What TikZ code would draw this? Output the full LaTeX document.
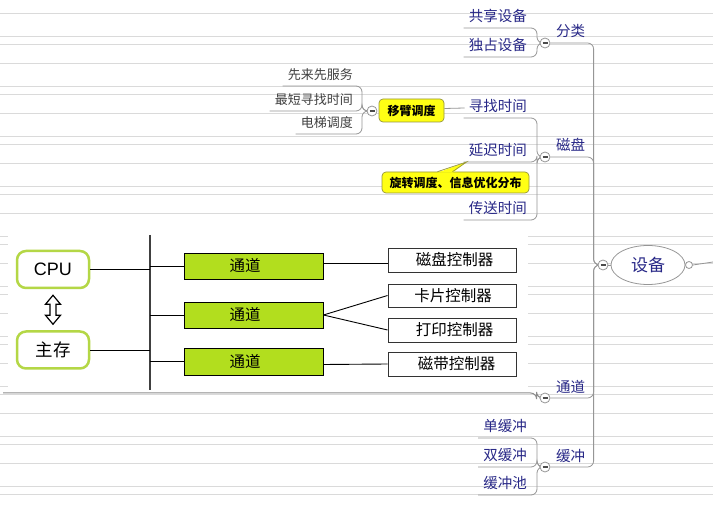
\documentclass[tikz,border=0pt]{standalone}
\usepackage{fontspec}
\newfontfamily\cjk{Noto Sans CJK SC}
\newfontfamily\lsans{Liberation Sans}
\usetikzlibrary{calc,backgrounds,shapes.geometric}
\definecolor{mmblue}{RGB}{40,40,135}
\definecolor{bgline}{RGB}{218,218,218}
\definecolor{mmline}{RGB}{150,150,150}
\definecolor{chgreen}{RGB}{178,222,30}
\definecolor{boxgreen}{RGB}{180,215,70}
\definecolor{callfill}{RGB}{255,255,20}
\definecolor{calldraw}{RGB}{150,150,60}
\begin{document}
\begin{tikzpicture}[x=1pt,y=-1pt,
  mmtext/.style={font=\cjk\fontsize{14.5}{16}\selectfont, text=mmblue, inner sep=0pt},
  subtext/.style={font=\cjk\fontsize{13}{15}\selectfont, text=black!75, inner sep=0pt},
  conn/.style={draw=mmline, line width=0.8pt, rounded corners=6pt},
  collbtn/.style={circle, draw=mmline, fill=white, line width=0.8pt, minimum size=10pt, inner sep=0pt,
     path picture={\draw[black!70, line width=1.3pt] ([xshift=-2.5pt]path picture bounding box.center) -- ([xshift=2.5pt]path picture bounding box.center);}},
  callbox/.style={draw=calldraw, fill=callfill, rounded corners=4pt, line width=0.7pt, font=\cjk\bfseries\fontsize{12}{14}\selectfont, inner sep=0pt},
  membox/.style={draw=boxgreen, line width=2.5pt, rounded corners=9pt, minimum width=72pt, minimum height=37pt, inner sep=0pt},
  chbox/.style={draw=black, fill=chgreen, line width=0.9pt, minimum width=139pt, minimum height=26pt, inner sep=0pt, font=\cjk\fontsize{15.5}{17}\selectfont},
  ctlbox/.style={draw=black!80, fill=white, line width=0.9pt, minimum width=128pt, minimum height=24pt, inner sep=0pt, font=\cjk\fontsize{15.5}{17}\selectfont},
  wire/.style={draw=black, line width=0.9pt}
]
\useasboundingbox (0,0) rectangle (713,505);

% root
\node[ellipse, draw=mmline, fill=white, line width=0.8pt, minimum width=74pt, minimum height=39pt, inner sep=0pt,
      font=\cjk\fontsize{17}{19}\selectfont, text=mmblue] (root) at (648,265) {设备};
\node[collbtn] (rootc) at (603,265) {};
\node[circle, draw=mmline, fill=white, line width=0.8pt, minimum size=7pt, inner sep=0pt] (rootr) at (689,265) {};
\coordinate (rootend) at (713,262);

% branches
\node[collbtn] (c1) at (545,43) {};
\node[mmtext, anchor=west] (l1) at (556,31) {分类};
\node[collbtn] (c2) at (545,157) {};
\node[mmtext, anchor=west] (l2) at (556,145) {磁盘};
\node[collbtn] (c3) at (545,398) {};
\node[mmtext, anchor=west] (l3) at (556,387) {通道};
\node[collbtn] (c4) at (545,467) {};
\node[mmtext, anchor=west] (l4) at (556,456) {缓冲};

% children
\node[mmtext, anchor=east] (a1) at (527,16) {共享设备};
\node[mmtext, anchor=east] (a2) at (527,45) {独占设备};
\node[mmtext, anchor=east] (b1) at (527,106) {寻找时间};
\node[mmtext, anchor=east] (b2) at (527,150) {延迟时间};
\node[mmtext, anchor=east] (b3) at (527,208) {传送时间};
\node[mmtext, anchor=east] (d1) at (527,426) {单缓冲};
\node[mmtext, anchor=east] (d2) at (527,455) {双缓冲};
\node[mmtext, anchor=east] (d3) at (527,483) {缓冲池};

% arm scheduling
\node[callbox, minimum width=65pt, minimum height=23pt] (yb) at (411.5,110.5) {移臂调度};
\node[collbtn] (m) at (372,111) {};
\node[subtext, anchor=east] (s1) at (353,75) {先来先服务};
\node[subtext, anchor=east] (s2) at (353,100) {最短寻找时间};
\node[subtext, anchor=east] (s3) at (353,123) {电梯调度};

% rotation callout
\node[callbox, minimum width=147pt, minimum height=21pt] (rb) at (455.5,182.5) {旋转调度、信息优化分布};
\coordinate (apex) at ($(b2.west)+(-2,12)$);
\fill[callfill] ($(rb.north)+(-18,1)$) -- (apex) -- ($(rb.north)+(-3,1)$) -- cycle;
\draw[calldraw, line width=0.7pt] ($(rb.north)+(-18,0)$) -- (apex) -- ($(rb.north)+(-3,0)$);

% left embedded diagram
\node[membox, font=\lsans\fontsize{18}{20}\selectfont] (cpu) at (53,269.5) {CPU};
\node[membox, font=\cjk\fontsize{17.5}{19}\selectfont] (mem) at (53,350) {主存};
\coordinate (bustop) at (150,235);
\coordinate (busbot) at (150,390);
\node[chbox] (ch1) at (253.5,266) {\hspace*{-17pt}通道};
\node[chbox] (ch2) at (253.5,315) {\hspace*{-17pt}通道};
\node[chbox, minimum height=27pt] (ch3) at (253.5,361.5) {\hspace*{-17pt}通道};
\node[ctlbox] (k1) at (452,260) {\hspace*{5pt}磁盘控制器};
\node[ctlbox, minimum height=23pt] (k2) at (452,295.5) {\hspace*{2pt}卡片控制器};
\node[ctlbox] (k3) at (452,330) {\hspace*{5pt}打印控制器};
\node[ctlbox] (k4) at (452,364) {\hspace*{9pt}磁带控制器};
\coordinate (imgend) at (3,393);

\draw[line width=1.6pt, black!75] (bustop) -- (busbot);
\draw[wire] (cpu.east) -- (cpu.east -| bustop);
\draw[wire] (mem.east) -- (mem.east -| bustop);
\draw[wire] (ch1.west -| bustop) -- (ch1.west);
\draw[wire] (ch2.west -| bustop) -- (ch2.west);
\draw[wire] (ch3.west -| bustop) -- (ch3.west);
\draw[wire] ($(ch1.east)+(0,-3)$) -- ($(k1.west)+(0,3)$);
\draw[wire] (ch2.east) -- (k2.west);
\draw[wire] (ch2.east) -- (k3.west);
\draw[wire] ($(ch3.east)+(0,3)$) -- (k4.west);
\coordinate (dac) at ($(cpu.south)!0.5!(mem.north)$);
\draw[line width=1.2pt, fill=white, line join=miter] ($(dac)+(0,-14.5)$) -- ++(7.5,9) -- ++(-4.5,0) -- ++(0,11) -- ++(4.5,0)
   -- ++(-7.5,9) -- ++(-7.5,-9) -- ++(4.5,0) -- ++(0,-11) -- ++(-4.5,0) -- cycle;

\begin{scope}[on background layer]
  \fill[white] (0,0) rectangle (713,505);
  \foreach \k in {0,...,9}{
    \foreach \dy in {13,36,44}{
      \draw[bgline, line width=0.9pt] (0,{\k*50+\dy}) -- (713,{\k*50+\dy});
    }
  }
  \fill[white] (8,232) rectangle (528,392);
  % root connectors
  \draw[conn] (rootc.west) -- ++(-4,0) |- (c1.east);
  \draw[conn] (rootc.west) -- ++(-4,0) |- (c2.east);
  \draw[conn] (rootc.west) -- ++(-4,0) |- (c3.east);
  \draw[conn] (rootc.west) -- ++(-4,0) |- (c4.east);
  \draw[mmline, line width=0.8pt] (rootc.east) -- (root.west);
  \draw[mmline, line width=0.8pt] (rootr.east) -- (rootend);
  % child underlines
  \foreach \n/\p in {a1/c1,a2/c1,b1/c2,b2/c2,b3/c2,d1/c4,d2/c4,d3/c4}{
    \draw[conn] ($(\n.west)+(-5,12)$) -- ($(\n.east)+(10,12)$) |- (\p.west);
  }
  \draw[conn, draw=black!45, line width=1pt] (imgend) -- ($(c3.west)+(-3,-5)$) |- (c3.west);
  \foreach \n in {s1,s2,s3}{
    \draw[conn] ($(\n.west)+(-5,11)$) -- ($(\n.east)+(9,11)$) |- (m.west);
  }
  \draw[mmline, line width=0.8pt] ($(yb.east)+(0,-2)$) -- ($(b1.west)+(-4,2)$);
\end{scope}
\end{tikzpicture}
\end{document}
